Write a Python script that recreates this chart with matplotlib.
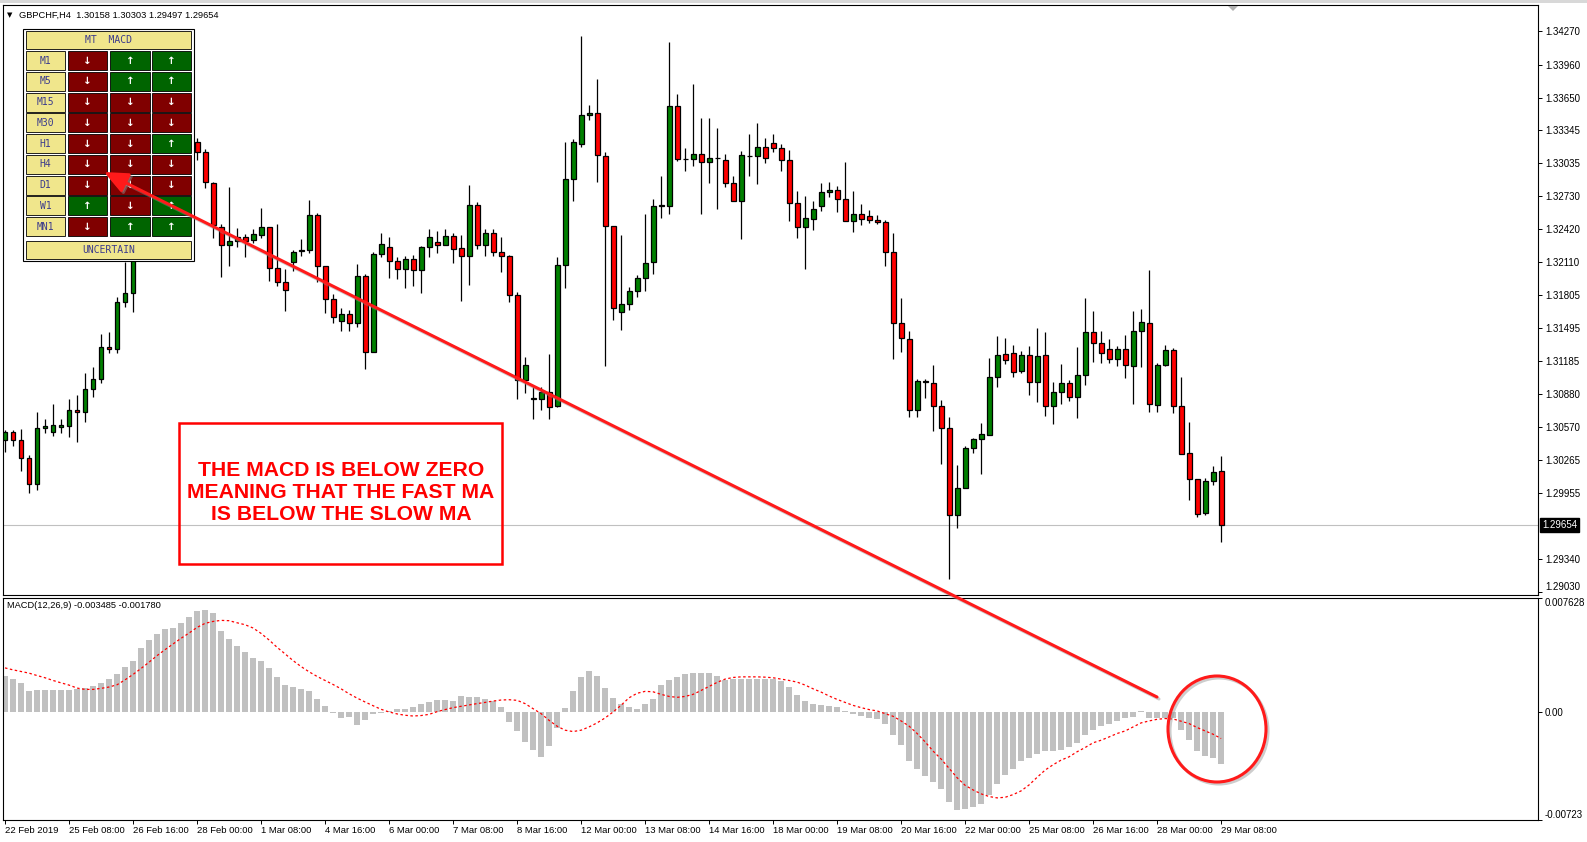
import matplotlib.pyplot as plt
import matplotlib.transforms as mtransforms
from matplotlib.patches import Rectangle, Ellipse, FancyArrowPatch, Polygon

plt.rcParams['font.family'] = ['Liberation Sans', 'DejaVu Sans']

# GBPCHF H4 candles
opens = [1.30450, 1.30525, 1.30450, 1.30282, 1.30039, 1.30562, 1.30525, 1.30572, 1.30581, 1.30730,
         1.30712, 1.30926, 1.31020, 1.31320, 1.31301, 1.31740, 1.31825, 1.32226, 1.32488, 1.32647,
         1.32806, 1.32956, 1.33087, 1.33199, 1.33236, 1.33143, 1.32853, 1.32442, 1.32273, 1.32311,
         1.32348, 1.32320, 1.32367, 1.32442, 1.32058, 1.31928, 1.32114, 1.32217, 1.32226, 1.32554,
         1.32077, 1.31768, 1.31563, 1.31628, 1.31544, 1.31983, 1.31273, 1.32189, 1.32255, 1.32124,
         1.32049, 1.32142, 1.32040, 1.32255, 1.32301, 1.32273, 1.32358, 1.32245, 1.32170, 1.32647,
         1.32273, 1.32386, 1.32208, 1.32170, 1.31806, 1.31011, 1.30833, 1.30833, 1.30899, 1.30768,
         1.32086, 1.32890, 1.33218, 1.33489, 1.33508, 1.33105, 1.32451, 1.31647, 1.31722, 1.31843,
         1.31965, 1.32114, 1.32638, 1.32638, 1.33573, 1.33077, 1.33077, 1.33124, 1.33049, 1.33087,
         1.33068, 1.32853, 1.32685, 1.33105, 1.33105, 1.33190, 1.33227, 1.33180, 1.33068, 1.32666,
         1.32442, 1.32517, 1.32638, 1.32769, 1.32788, 1.32704, 1.32498, 1.32563, 1.32545, 1.32507,
         1.32488, 1.32208, 1.31544, 1.31394, 1.30730, 1.31002, 1.30983, 1.30768, 1.30562, 1.29749,
         1.30001, 1.30375, 1.30459, 1.30497, 1.31039, 1.31254, 1.31263, 1.31095, 1.31245, 1.30992,
         1.31245, 1.30768, 1.30899, 1.30983, 1.30852, 1.31058, 1.31460, 1.31357, 1.31301, 1.31207,
         1.31301, 1.31142, 1.31469, 1.31544, 1.30777, 1.31151, 1.31292, 1.30768, 1.30328, 1.30085,
         1.29767, 1.30067, 1.30158]
highs = [1.30543, 1.30543, 1.30552, 1.30310, 1.30712, 1.30646, 1.30787, 1.30646, 1.30833, 1.30871,
         1.31075, 1.31132, 1.31441, 1.31460, 1.31787, 1.32114, 1.32320, 1.32554, 1.32741, 1.32881,
         1.33021, 1.33161, 1.33302, 1.33330, 1.33274, 1.33171, 1.32862, 1.32470, 1.32816, 1.32432,
         1.32376, 1.32423, 1.32619, 1.32442, 1.32470, 1.32049, 1.32226, 1.32329, 1.32694, 1.32573,
         1.32077, 1.31815, 1.31684, 1.31666, 1.32096, 1.32002, 1.32208, 1.32386, 1.32348, 1.32161,
         1.32170, 1.32180, 1.32264, 1.32423, 1.32404, 1.32423, 1.32386, 1.32367, 1.32834, 1.32675,
         1.32423, 1.32423, 1.32348, 1.32180, 1.31834, 1.31226, 1.30945, 1.30945, 1.31254, 1.32161,
         1.33236, 1.33264, 1.34227, 1.33582, 1.33825, 1.33143, 1.32451, 1.32367, 1.31881, 1.31993,
         1.32563, 1.32704, 1.32918, 1.34171, 1.33685, 1.33180, 1.33779, 1.33461, 1.33461, 1.33367,
         1.33124, 1.32918, 1.33152, 1.33311, 1.33414, 1.33274, 1.33311, 1.33218, 1.33161, 1.32778,
         1.32732, 1.32685, 1.32853, 1.32862, 1.32825, 1.33049, 1.32778, 1.32657, 1.32601, 1.32554,
         1.32507, 1.32386, 1.31778, 1.31469, 1.31020, 1.31020, 1.31151, 1.30824, 1.30665, 1.30216,
         1.30394, 1.30469, 1.30609, 1.31217, 1.31422, 1.31404, 1.31339, 1.31282, 1.31329, 1.31497,
         1.31460, 1.30992, 1.31161, 1.31011, 1.31320, 1.31778, 1.31656, 1.31469, 1.31394, 1.31329,
         1.31432, 1.31656, 1.31675, 1.32040, 1.31170, 1.31339, 1.31310, 1.31039, 1.30618, 1.30085,
         1.30094, 1.30206, 1.30303]
lows = [1.30338, 1.30394, 1.30160, 1.29954, 1.29982, 1.30515, 1.30487, 1.30515, 1.30478, 1.30431,
        1.30618, 1.30851, 1.30983, 1.31263, 1.31263, 1.31694, 1.31647, 1.32152, 1.32413, 1.32554,
        1.32694, 1.32881, 1.33021, 1.33143, 1.33068, 1.32806, 1.32339, 1.31974, 1.32077, 1.32255,
        1.32161, 1.32292, 1.32339, 1.31937, 1.31890, 1.31656, 1.32030, 1.32170, 1.32199, 1.31928,
        1.31637, 1.31544, 1.31469, 1.31469, 1.31507, 1.31114, 1.31273, 1.32161, 1.31965, 1.31955,
        1.31871, 1.31890, 1.31825, 1.32161, 1.32199, 1.32273, 1.32105, 1.31750, 1.31899, 1.32236,
        1.32170, 1.32170, 1.32021, 1.31740, 1.30833, 1.30889, 1.30646, 1.30730, 1.30646, 1.30759,
        1.31871, 1.32685, 1.33190, 1.33442, 1.32862, 1.31142, 1.31572, 1.31479, 1.31666, 1.31787,
        1.31843, 1.32002, 1.32526, 1.32563, 1.33059, 1.32965, 1.33012, 1.32563, 1.32853, 1.32610,
        1.32816, 1.32685, 1.32329, 1.32918, 1.32844, 1.33040, 1.33143, 1.32965, 1.32498, 1.32339,
        1.32049, 1.32413, 1.32591, 1.32722, 1.32582, 1.32498, 1.32395, 1.32460, 1.32479, 1.32470,
        1.32077, 1.31207, 1.31273, 1.30665, 1.30665, 1.30843, 1.30534, 1.30225, 1.29150, 1.29627,
        1.30001, 1.30328, 1.30132, 1.30497, 1.30945, 1.31161, 1.31039, 1.31076, 1.30871, 1.30805,
        1.30674, 1.30600, 1.30787, 1.30815, 1.30656, 1.30964, 1.31179, 1.31170, 1.31170, 1.31142,
        1.31030, 1.30787, 1.31132, 1.30712, 1.30712, 1.31142, 1.30702, 1.30319, 1.29889, 1.29730,
        1.29749, 1.30029, 1.29497]
closes = [1.30525, 1.30450, 1.30282, 1.30039, 1.30562, 1.30581, 1.30590, 1.30590, 1.30730, 1.30712,
          1.30926, 1.31020, 1.31320, 1.31301, 1.31740, 1.31825, 1.32226, 1.32488, 1.32647, 1.32806,
          1.32956, 1.33087, 1.33236, 1.33274, 1.33143, 1.32862, 1.32460, 1.32273, 1.32311, 1.32348,
          1.32311, 1.32376, 1.32442, 1.32058, 1.31928, 1.31853, 1.32208, 1.32226, 1.32554, 1.32077,
          1.31768, 1.31600, 1.31628, 1.31544, 1.31983, 1.31273, 1.32189, 1.32283, 1.32124, 1.32049,
          1.32142, 1.32040, 1.32255, 1.32348, 1.32273, 1.32358, 1.32236, 1.32170, 1.32647, 1.32273,
          1.32386, 1.32208, 1.32170, 1.31806, 1.31011, 1.31151, 1.30843, 1.30899, 1.30759, 1.32086,
          1.32890, 1.33236, 1.33489, 1.33508, 1.33115, 1.32451, 1.31684, 1.31722, 1.31843, 1.31965,
          1.32105, 1.32638, 1.32647, 1.33573, 1.33077, 1.33077, 1.33124, 1.33049, 1.33087, 1.33087,
          1.32853, 1.32685, 1.33115, 1.33105, 1.33190, 1.33087, 1.33180, 1.33068, 1.32666, 1.32442,
          1.32526, 1.32610, 1.32769, 1.32788, 1.32704, 1.32498, 1.32563, 1.32517, 1.32507, 1.32488,
          1.32208, 1.31544, 1.31404, 1.30730, 1.31002, 1.30992, 1.30768, 1.30562, 1.29749, 1.30001,
          1.30375, 1.30459, 1.30506, 1.31039, 1.31245, 1.31198, 1.31086, 1.31245, 1.30992, 1.31235,
          1.30768, 1.30899, 1.30983, 1.30852, 1.31058, 1.31460, 1.31357, 1.31263, 1.31207, 1.31301,
          1.31151, 1.31469, 1.31553, 1.30787, 1.31151, 1.31292, 1.30768, 1.30319, 1.30085, 1.29758,
          1.30067, 1.30150, 1.29654]

# MACD(12,26,9): main line (histogram) and signal line
macd_main = [0.00244, 0.00224, 0.00191, 0.00138, 0.00144, 0.00144, 0.00144, 0.00144, 0.00144, 0.00151,
             0.00160, 0.00171, 0.00191, 0.00224, 0.00251, 0.00304, 0.00344, 0.00431, 0.00484, 0.00524,
             0.00557, 0.00564, 0.00597, 0.00637, 0.00677, 0.00682, 0.00664, 0.00544, 0.00491, 0.00444,
             0.00404, 0.00364, 0.00344, 0.00291, 0.00231, 0.00178, 0.00164, 0.00151, 0.00138, 0.00089,
             0.00038, -0.00004, -0.00040, -0.00033, -0.00089, -0.00056, -0.00016, -0.00007, 0.00007, 0.00018,
             0.00018, 0.00031, 0.00051, 0.00064, 0.00078, 0.00078, 0.00071, 0.00104, 0.00098, 0.00098,
             0.00084, 0.00071, 0.00031, -0.00067, -0.00127, -0.00200, -0.00255, -0.00300, -0.00226, -0.00107,
             0.00027, 0.00138, 0.00231, 0.00271, 0.00244, 0.00158, 0.00095, 0.00051, 0.00031, 0.00018,
             0.00056, 0.00084, 0.00178, 0.00211, 0.00231, 0.00251, 0.00258, 0.00264, 0.00264, 0.00244,
             0.00211, 0.00218, 0.00218, 0.00224, 0.00224, 0.00218, 0.00218, 0.00204, 0.00164, 0.00111,
             0.00071, 0.00051, 0.00044, 0.00038, 0.00031, 0.00004, -0.00011, -0.00024, -0.00038, -0.00047,
             -0.00078, -0.00153, -0.00220, -0.00326, -0.00380, -0.00426, -0.00466, -0.00513, -0.00604, -0.00655,
             -0.00648, -0.00635, -0.00619, -0.00553, -0.00480, -0.00420, -0.00380, -0.00326, -0.00306, -0.00278,
             -0.00260, -0.00264, -0.00253, -0.00233, -0.00206, -0.00153, -0.00120, -0.00093, -0.00078, -0.00062,
             -0.00040, -0.00033, 0.00004, -0.00040, -0.00040, -0.00040, -0.00040, -0.00118, -0.00186, -0.00260,
             -0.00293, -0.00306, -0.003485]
macd_signal = [0.00295, 0.00282, 0.00271, 0.00260, 0.00244, 0.00229, 0.00211, 0.00195, 0.00180, 0.00160,
               0.00151, 0.00151, 0.00158, 0.00167, 0.00182, 0.00215, 0.00251, 0.00291, 0.00333, 0.00377,
               0.00417, 0.00455, 0.00493, 0.00528, 0.00566, 0.00593, 0.00606, 0.00613, 0.00611, 0.00597,
               0.00584, 0.00562, 0.00526, 0.00482, 0.00433, 0.00389, 0.00344, 0.00304, 0.00269, 0.00238,
               0.00211, 0.00184, 0.00155, 0.00122, 0.00093, 0.00067, 0.00042, 0.00018, 0.00000, -0.00013,
               -0.00022, -0.00027, -0.00024, -0.00016, 0.00002, 0.00016, 0.00029, 0.00038, 0.00047, 0.00056,
               0.00064, 0.00073, 0.00080, 0.00082, 0.00078, 0.00056, 0.00022, -0.00011, -0.00056, -0.00095,
               -0.00122, -0.00131, -0.00122, -0.00100, -0.00073, -0.00040, 0.00000, 0.00045, 0.00095, 0.00125,
               0.00138, 0.00135, 0.00118, 0.00104, 0.00098, 0.00104, 0.00118, 0.00144, 0.00171, 0.00198,
               0.00220, 0.00231, 0.00235, 0.00235, 0.00235, 0.00233, 0.00229, 0.00220, 0.00211, 0.00200,
               0.00180, 0.00155, 0.00133, 0.00107, 0.00084, 0.00064, 0.00044, 0.00029, 0.00016, 0.00007,
               -0.00011, -0.00029, -0.00060, -0.00095, -0.00144, -0.00200, -0.00262, -0.00315, -0.00377, -0.00440,
               -0.00491, -0.00522, -0.00548, -0.00566, -0.00575, -0.00571, -0.00553, -0.00528, -0.00488, -0.00437,
               -0.00389, -0.00353, -0.00322, -0.00300, -0.00266, -0.00238, -0.00206, -0.00189, -0.00167, -0.00144,
               -0.00127, -0.00100, -0.00073, -0.00060, -0.00049, -0.00044, -0.00047, -0.00062, -0.00078, -0.00104,
               -0.00127, -0.00149, -0.00178]

price_ticks = [1.34270, 1.33960, 1.33650, 1.33345, 1.33035, 1.32730, 1.32420, 1.32110, 1.31805,
               1.31495, 1.31185, 1.30880, 1.30570, 1.30265, 1.29955, 1.29340, 1.29030]
time_labels = ['22 Feb 2019', '25 Feb 08:00', '26 Feb 16:00', '28 Feb 00:00', '1 Mar 08:00',
               '4 Mar 16:00', '6 Mar 00:00', '7 Mar 08:00', '8 Mar 16:00', '12 Mar 00:00',
               '13 Mar 08:00', '14 Mar 16:00', '18 Mar 00:00', '19 Mar 08:00', '20 Mar 16:00',
               '22 Mar 00:00', '25 Mar 08:00', '26 Mar 16:00', '28 Mar 00:00', '29 Mar 08:00']
label_step = 8

# MT MACD panel
tf_names = ['M1', 'M5', 'M15', 'M30', 'H1', 'H4', 'D1', 'W1', 'MN1']
tf_signals = ['duu', 'duu', 'ddd', 'ddd', 'ddu', 'ddd', 'ddd', 'udu', 'duu']

note_lines = ['THE MACD IS BELOW ZERO', 'MEANING THAT THE FAST MA', 'IS BELOW THE SLOW MA']

##############################################################################
W, H = 1587, 842
fig = plt.figure(figsize=(W / 100, H / 100), dpi=100)
fig.patch.set_facecolor('white')


def fbox(l, t, r, b):
    return [l / W, 1 - b / H, (r - l) / W, (b - t) / H]


def fx(px):
    return px / W


def fy(py):
    return 1 - py / H


ax = fig.add_axes(fbox(3, 5, 1538, 595))
axm = fig.add_axes(fbox(3, 598, 1538, 820))

n = len(opens)
xs = list(range(n))
xlim = (-0.25, 191.6)

# candles
ax.axhline(closes[-1], color='#c0c0c0', lw=0.8, zorder=1)
ax.vlines(xs, lows, highs, color='black', lw=0.9, zorder=2)
body_col = ['#008000' if c >= o else '#ff0000' for o, c in zip(opens, closes)]
ax.bar(xs, [c - o for o, c in zip(opens, closes)], bottom=opens, width=0.62,
       color=body_col, edgecolor='black', linewidth=0.9, zorder=3)

ax.set_xlim(*xlim)
ax.set_ylim(1.29000, 1.34517)
ax.set_xticks([])
ax.yaxis.tick_right()
ax.set_yticks(price_ticks)
ax.set_yticklabels(['%.5f' % p for p in price_ticks])
ax.tick_params(axis='y', length=3, width=0.7, labelsize=7, pad=2)
ax.get_yticklabels()[-1].set_verticalalignment('bottom')

trans = mtransforms.blended_transform_factory(ax.transAxes, ax.transData)
ax.text(1.0025, closes[-1], '%.5f' % closes[-1], transform=trans, color='white', fontsize=7,
        va='center', ha='left', clip_on=False, zorder=10,
        bbox=dict(boxstyle='square,pad=0.2', fc='black', ec='black'))

# MACD window
axm.bar(xs, macd_main, width=0.8, color='#c0c0c0', zorder=2)
axm.plot(xs, macd_signal, color='red', lw=0.9, ls=(0, (2, 2)), zorder=3)
axm.set_xlim(*xlim)
axm.set_ylim(-0.00723, 0.007628)
axm.yaxis.tick_right()
axm.set_yticks([0.007628, 0.0, -0.00723])
axm.set_yticklabels(['0.007628', '0.00', '-0.00723'])
axm.tick_params(axis='y', length=3, width=0.7, labelsize=7, pad=2)
mlabels = axm.get_yticklabels()
mlabels[0].set_verticalalignment('top')
mlabels[2].set_verticalalignment('bottom')
axm.set_xticks(xs[::label_step])
axm.set_xticklabels(time_labels)
axm.tick_params(axis='x', length=3, width=0.7, labelsize=6.8, pad=1.5)
for t in axm.get_xticklabels():
    t.set_horizontalalignment('left')

for a in (ax, axm):
    for s in a.spines.values():
        s.set_linewidth(0.8)
        s.set_color('black')

# top strip / header texts
fig.add_artist(Rectangle((0, fy(3)), 1, 3 / H, transform=fig.transFigure, fc='#d8d8d8', ec='none'))
fig.text(fx(7), fy(15), '▼', fontsize=5, va='center', family=['DejaVu Sans'])
fig.text(fx(19), fy(15), 'GBPCHF,H4  1.30158 1.30303 1.29497 1.29654', fontsize=6.7, va='center')
fig.text(fx(7), fy(606), 'MACD(12,26,9) -0.003485 -0.001780', fontsize=6.7, va='center')
fig.add_artist(Polygon([(fx(1228), fy(6)), (fx(1238), fy(6)), (fx(1233), fy(11))],
                       transform=fig.transFigure, fc='#b0b0b0', ec='none'))


def px_rect(l, t, r, b, **kw):
    fig.add_artist(Rectangle((fx(l), fy(b)), (r - l) / W, (b - t) / H, transform=fig.transFigure, **kw))


# MT MACD table
khaki = '#f0e68c'
txt_col = '#3a3a8c'
px_rect(23, 29, 194, 261, fc='white', ec='black', lw=0.8)
px_rect(26, 31, 191, 49, fc=khaki, ec='black', lw=0.6)
fig.text(fx(108.5), fy(40), 'MT  MACD', fontsize=7, ha='center', va='center', color=txt_col,
         family=['DejaVu Sans Mono'])
col_x = [(68, 107), (110, 150), (152, 191)]
for k, (name, sig) in enumerate(zip(tf_names, tf_signals)):
    top = 51 + 20.75 * k
    bot = top + 19
    px_rect(26, top, 65, bot, fc=khaki, ec='black', lw=0.6)
    fig.text(fx(45.5), fy((top + bot) / 2), name, fontsize=7, ha='center', va='center',
             color=txt_col, family=['DejaVu Sans Mono'])
    for (l, r), s in zip(col_x, sig):
        px_rect(l, top, r, bot, fc='#006400' if s == 'u' else '#800000', ec='black', lw=0.6)
        fig.text(fx((l + r) / 2), fy((top + bot) / 2), '↑' if s == 'u' else '↓', fontsize=7.5,
                 ha='center', va='center', color='white', fontweight='bold', family=['DejaVu Sans'])
px_rect(26, 241, 191, 259, fc=khaki, ec='black', lw=0.6)
fig.text(fx(108.5), fy(250), 'UNCERTAIN', fontsize=7, ha='center', va='center', color=txt_col,
         family=['DejaVu Sans Mono'])

# note box
px_rect(179, 423, 502, 564, fc='none', ec='#ff0000', lw=1.8)
for k, line in enumerate(note_lines):
    fig.text(fx(341), fy(470 + 22.3 * k), line, fontsize=15.2, fontweight='bold', color='#ff0000',
             ha='center', va='center')

# arrow from the MACD circle to the H4 cell, with a soft shadow
for dx, dy, col, al, z in [(2, 2, '#909090', 0.45, 20), (0, 0, '#ff1a1a', 1.0, 21)]:
    fig.add_artist(FancyArrowPatch((fx(1157 + dx), fy(697 + dy)), (fx(104 + dx), fy(172 + dy)),
                                   transform=fig.transFigure, arrowstyle='-|>,head_length=0.8,head_width=0.35',
                                   mutation_scale=18, color=col, alpha=al, lw=2.2,
                                   shrinkA=0, shrinkB=0, zorder=z))

for dx, dy, col, al in [(2, 2, '#909090', 0.45), (0, 0, '#ff1a1a', 1.0)]:
    fig.add_artist(Ellipse((fx(1217 + dx), fy(729 + dy)), 98 / W, 106 / H, transform=fig.transFigure,
                           fill=False, ec=col, alpha=al, lw=2.2))

fig.savefig('out.png', dpi=100)
